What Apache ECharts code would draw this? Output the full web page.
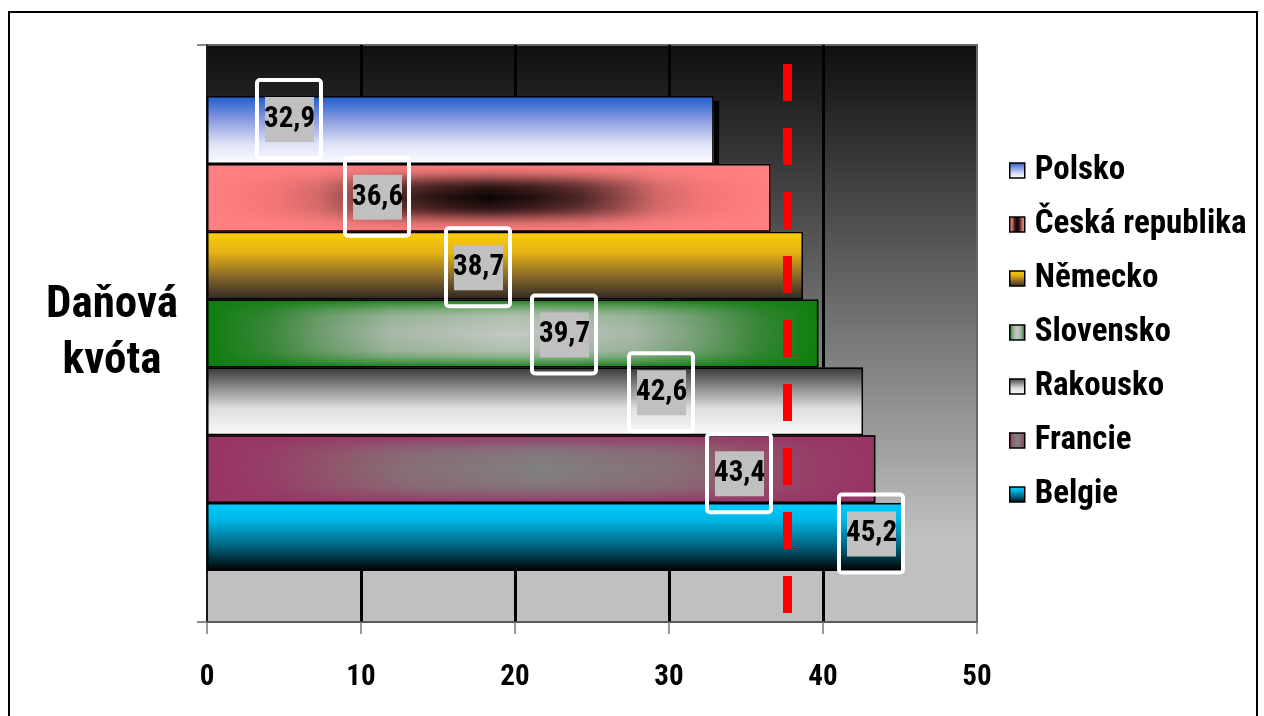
<!DOCTYPE html>
<html><head><meta charset="utf-8">
<script src="https://cdn.jsdelivr.net/npm/echarts@6/dist/echarts.min.js"></script>
<style>html,body{margin:0;padding:0;background:#fff}#c{width:1264px;height:716px}</style>
</head><body><div id="c"></div>
<script>
// ---- data ----
const category = ['Daňová\nkvóta'];
const countries = ['Polsko', 'Česká republika', 'Německo', 'Slovensko', 'Rakousko', 'Francie', 'Belgie'];
const values = [32.9, 36.6, 38.7, 39.7, 42.6, 43.4, 45.2];
const referenceValue = 37.7;
const xMin = 0, xMax = 50, xStep = 10;

// ---- styles ----
const NARROW = '"Roboto Condensed", "Open Sans Condensed", "Liberation Sans Narrow", sans-serif';
const labelCenterX = [82, 170, 271, 357, 454, 532, 664];
const labelShiftY = [-11, -1, 1.5, 1, -9, 4, -3.5];

const LG = echarts.graphic.LinearGradient;
const v = s => new LG(0, 0, 0, 1, s.map(([o, c]) => ({offset: o, color: c})));
const h = s => new LG(0, 0, 1, 0, s.map(([o, c]) => ({offset: o, color: c})));
function sym(stops) { // stops given for 0..0.5, mirrored
  const out = stops.slice();
  for (let i = stops.length - 2; i >= 0; i--) out.push([1 - stops[i][0], stops[i][1]]);
  return out;
}
function rgba(rgb, a) { return 'rgba(' + rgb.join(',') + ',' + a + ')'; }
function overlay(rgb, alphas) { // [[t, a]] for 0..0.5
  return v(sym(alphas.map(([t, a]) => [t, rgba(rgb, a)])));
}

const baseFill = [
  v([[0, '#1c5ccc'], [0.35, '#8a9ae0'], [0.7, '#dde2f6'], [1, '#fdfdff']]),
  h(sym([[0, '#ff8080'], [0.12, '#f47474'], [0.2, '#d06868'], [0.28, '#804040'], [0.34, '#4a2424'], [0.42, '#241010'], [0.5, '#0c0404']])),
  v([[0, '#fccc0c'], [0.3, '#e6b414'], [0.65, '#8a6a28'], [1, '#2e2626']]),
  h(sym([[0, '#0e7e0e'], [0.1, '#3a863a'], [0.2, '#78a078'], [0.3, '#a8b8a8'], [0.5, '#c4c8c4']])),
  v([[0, '#383838'], [0.3, '#8c8c8c'], [0.6, '#dedede'], [1, '#fafafa']]),
  h(sym([[0, '#993366'], [0.1, '#964068'], [0.2, '#8e5a6c'], [0.3, '#867078'], [0.5, '#808080']])),
  v([[0, '#00ccff'], [0.25, '#00b6e6'], [0.65, '#00607a'], [1, '#000000']])
];
const overlayFill = [
  null,
  overlay([255, 128, 128], [[0, 1], [0.12, 0.85], [0.2, 0.6], [0.28, 0.3], [0.35, 0.12], [0.5, 0]]),
  null,
  overlay([14, 126, 14], [[0, 1], [0.08, 0.6], [0.16, 0.3], [0.25, 0.1], [0.5, 0]]),
  null,
  overlay([153, 51, 102], [[0, 1], [0.08, 0.65], [0.16, 0.35], [0.25, 0.12], [0.5, 0]]),
  null
];

const GAP = '17.7%';
const series = [];
countries.forEach((name, i) => {
  const s = {
    type: 'bar', name, yAxisIndex: 0, data: [values[i]],
    barGap: 0, barCategoryGap: GAP,
    itemStyle: {color: baseFill[i], borderWidth: 0},
    emphasis: {disabled: true}
  };
  if (i === 0) Object.assign(s.itemStyle, {shadowColor: '#000', shadowOffsetX: 5, shadowOffsetY: 5, shadowBlur: 1});
  if (i === countries.length - 1) {
    s.markLine = {
      silent: true, symbol: ['none', 'none'], label: {show: false},
      lineStyle: {color: '#ff0000', width: 9, type: [37, 27], dashOffset: 55},
      data: [{xAxis: referenceValue}]
    };
  }
  series.push(s);
});
countries.forEach((name, i) => {
  series.push({
    type: 'bar', name: '_o' + i, yAxisIndex: 1, data: [values[i]],
    barGap: 0, barCategoryGap: GAP, silent: true,
    itemStyle: {color: overlayFill[i] || 'rgba(0,0,0,0)', borderColor: '#000', borderWidth: 1.5},
    label: {
      show: true,
      position: [labelCenterX[i], '50%'],
      offset: [0, labelShiftY[i]],
      align: 'center', verticalAlign: 'middle',
      borderColor: '#fff', borderWidth: 4, borderRadius: 3,
      padding: [17, 7, 16, 8],
      formatter: p => '{v|' + String(p.value).replace('.', ',') + '}',
      rich: {v: {backgroundColor: '#c0c0c0', color: '#000', fontSize: 29, fontWeight: 'bold',
        fontFamily: NARROW, width: 49, height: 45, lineHeight: 45, align: 'center'}}
    }
  });
});

const chart = echarts.init(document.getElementById('c'), null, {renderer: 'canvas'});
chart.setOption({
  animation: false,
  graphic: [{type: 'rect', shape: {x: 9, y: 12, width: 1248, height: 720},
    style: {fill: 'none', stroke: '#000', lineWidth: 2}, z: -10, silent: true}],
  legend: {
    orient: 'vertical', left: 1004, top: 149,
    data: countries, icon: 'rect', itemWidth: 15, itemHeight: 15, itemGap: 21,
    itemStyle: {borderColor: '#000', borderWidth: 1.5},
    textStyle: {fontSize: 33, fontWeight: 'bold', fontFamily: NARROW, color: '#000', lineHeight: 30, padding: [0, 0, 0, 5]}
  },
  grid: {
    left: 207, right: 287, top: 45, bottom: 94, show: true,
    backgroundColor: v([[0, '#0e0e0e'], [0.85, '#c0c0c0'], [1, '#c0c0c0']]),
    borderColor: '#666', borderWidth: 2
  },
  xAxis: {
    type: 'value', min: xMin, max: xMax, interval: xStep,
    axisLine: {show: true, lineStyle: {color: '#555', width: 1.5}},
    axisTick: {show: true, length: 12, lineStyle: {color: '#777', width: 1.5}},
    axisLabel: {fontSize: 29, fontWeight: 'bold', fontFamily: NARROW, color: '#000', margin: 41},
    splitLine: {show: true, showMinLine: false, showMaxLine: false, lineStyle: {color: '#000', width: 3}}
  },
  yAxis: [{
    type: 'category', data: category,
    axisLine: {show: true, lineStyle: {color: '#000', width: 1.5}},
    axisTick: {show: true, length: 10, lineStyle: {color: '#666', width: 1.5}},
    axisLabel: {fontSize: 45, fontWeight: 'bold', fontFamily: NARROW, color: '#000', align: 'center', margin: 95, lineHeight: 56}
  }, {
    type: 'category', data: category, show: false
  }],
  series
});
</script></body></html>
